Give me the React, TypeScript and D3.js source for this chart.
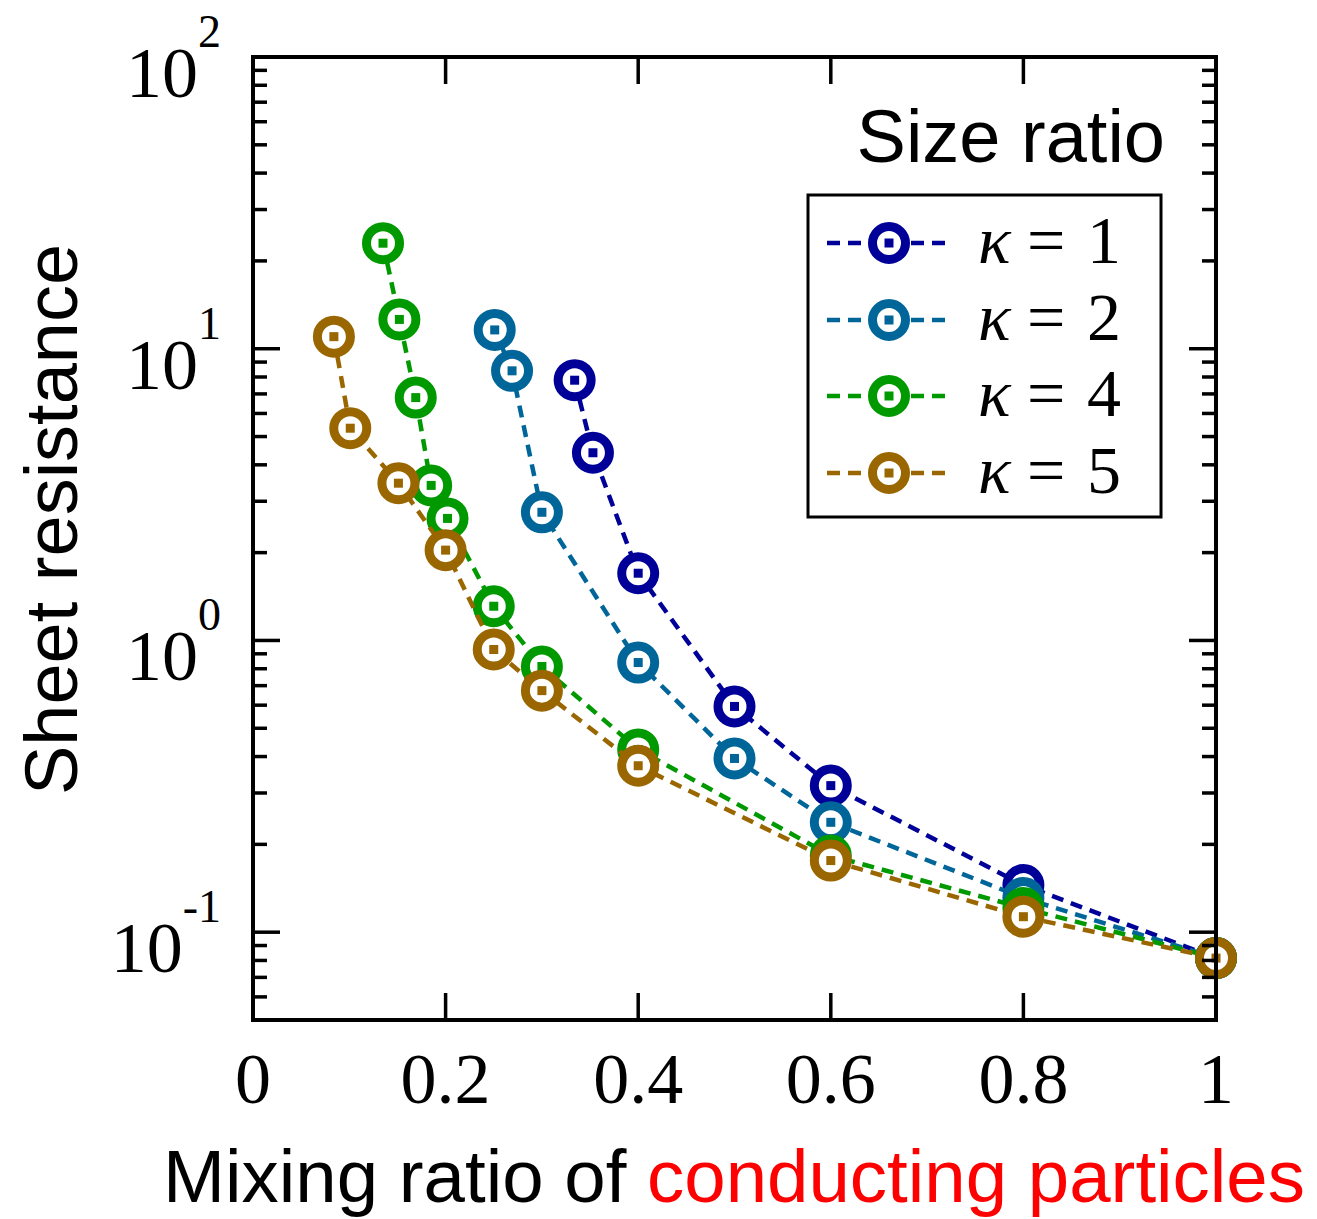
import React from "react";
import * as d3 from "d3";

// values
const xTicks = [0, 0.2, 0.4, 0.6, 0.8, 1];
const xTickLabels = ["0", "0.2", "0.4", "0.6", "0.8", "1"];
const yMajor = [0.1, 1, 10, 100];
const yExponents = ["-1", "0", "1", "2"];

const kappaLabels = ["1", "2", "4", "5"];
const kappaColors = ["#000099", "#006699", "#009900", "#996600"];

const kappa1X = [0.334, 0.353, 0.4, 0.5, 0.6, 0.8, 1.0];
const kappa1Y = [7.8, 4.4, 1.7, 0.594, 0.318, 0.145, 0.0815];
const kappa2X = [0.251, 0.269, 0.3, 0.4, 0.5, 0.6, 0.8, 1.0];
const kappa2Y = [11.6, 8.4, 2.75, 0.84, 0.394, 0.238, 0.131, 0.0815];
const kappa4X = [0.135, 0.152, 0.169, 0.185, 0.202, 0.25, 0.3, 0.4, 0.6, 0.8, 1.0];
const kappa4Y = [23.0, 12.6, 6.8, 3.4, 2.62, 1.31, 0.814, 0.423, 0.183, 0.121, 0.0815];
const kappa5X = [0.084, 0.101, 0.151, 0.2, 0.25, 0.3, 0.4, 0.6, 0.8, 1.0];
const kappa5Y = [11.0, 5.34, 3.46, 2.04, 0.931, 0.673, 0.372, 0.176, 0.113, 0.0815];

const seriesX = [kappa1X, kappa2X, kappa4X, kappa5X];
const seriesY = [kappa1Y, kappa2Y, kappa4Y, kappa5Y];

const serif = "'Liberation Serif', 'Times New Roman', serif";
const sans = "'Liberation Sans', Arial, sans-serif";

export default function App() {
  const width = 1317,
    height = 1219;
  const left = 253,
    right = 1216,
    top = 57,
    bottom = 1020;

  const x = d3.scaleLinear().domain([0, 1]).range([left, right]);
  const y = d3.scaleLog().domain([0.05, 100]).range([bottom, top]);

  const line = d3
    .line<[number, number]>()
    .x((d) => x(d[0]))
    .y((d) => y(d[1]));

  // minor ticks: every 1..9 x 10^k inside the domain, except the majors and the edge
  const minor = y
    .ticks()
    .filter((t) => !yMajor.some((m) => Math.abs(m - t) < 1e-9) && t > 0.0501 && t < 99.9);

  const majorLen = 27;
  const minorLen = 14;
  const tickStyle = { stroke: "#000", strokeWidth: 3.5 };

  const markerR = 16.5;
  const markerW = 9;
  const dash = "12,8";
  const sq = 9;

  const legend = { x0: 808, y0: 195, x1: 1161, y1: 517, lineX0: 827, lineX1: 951, markX: 889 };
  const legendRows = [243, 320, 396, 473];

  return (
    <svg
      width={width}
      height={height}
      style={{ position: "absolute", left: 0, top: 0, background: "#fff" }}
    >
      {/* series */}
      {seriesX.map((xs, si) => {
        const pts: [number, number][] = xs.map((v, i) => [v, seriesY[si][i]]);
        const col = kappaColors[si];
        return (
          <g key={si}>
            <path d={line(pts) || ""} fill="none" stroke={col} strokeWidth={4.5} strokeDasharray={dash} />
            {pts.map((p, i) => (
              <g key={i}>
                <circle cx={x(p[0])} cy={y(p[1])} r={markerR} fill="#fff" stroke={col} strokeWidth={markerW} />
                <rect x={x(p[0]) - sq / 2} y={y(p[1]) - sq / 2} width={sq} height={sq} fill={col} />
              </g>
            ))}
          </g>
        );
      })}

      {/* frame */}
      <rect x={left} y={top} width={right - left} height={bottom - top} fill="none" stroke="#000" strokeWidth={4} />

      {/* x ticks, bottom and top */}
      {xTicks.map((t, i) => (
        <g key={i}>
          {t > 0 && t < 1 && (
            <>
              <line x1={x(t)} x2={x(t)} y1={bottom} y2={bottom - majorLen} style={tickStyle} />
              <line x1={x(t)} x2={x(t)} y1={top} y2={top + majorLen} style={tickStyle} />
            </>
          )}
          <text
            x={x(t)}
            y={1103}
            textAnchor="middle"
            fontFamily={serif}
            fontSize={72}
            fill="#000"
          >
            {xTickLabels[i]}
          </text>
        </g>
      ))}

      {/* y ticks, left and right */}
      {yMajor.map((t, i) => (
        <g key={i}>
          {t < 100 && (
            <>
              <line x1={left} x2={left + majorLen} y1={y(t)} y2={y(t)} style={tickStyle} />
              <line x1={right} x2={right - majorLen} y1={y(t)} y2={y(t)} style={tickStyle} />
            </>
          )}
          <text x={221} y={y(t) + 40} textAnchor="end" fontFamily={serif} fontSize={72} fill="#000">
            10
            <tspan fontSize={46} dy={-50}>
              {yExponents[i]}
            </tspan>
          </text>
        </g>
      ))}
      {minor.map((t, i) => (
        <g key={i}>
          <line x1={left} x2={left + minorLen} y1={y(t)} y2={y(t)} style={tickStyle} />
          <line x1={right} x2={right - minorLen} y1={y(t)} y2={y(t)} style={tickStyle} />
        </g>
      ))}

      {/* axis titles */}
      <text
        transform={`translate(77,${(242 + 797) / 2}) rotate(-90)`}
        textAnchor="middle"
        fontFamily={sans}
        fontSize={74}
        fill="#000"
      >
        Sheet resistance
      </text>
      <text x={163} y={1202} fontFamily={sans} fontSize={74} fill="#000" textLength={1142} lengthAdjust="spacingAndGlyphs">
        Mixing ratio of <tspan fill="#ff0000">conducting particles</tspan>
      </text>

      {/* legend */}
      <text x={1165} y={162} textAnchor="end" fontFamily={sans} fontSize={74} fill="#000">
        Size ratio
      </text>
      <rect
        x={legend.x0}
        y={legend.y0}
        width={legend.x1 - legend.x0}
        height={legend.y1 - legend.y0}
        fill="#fff"
        stroke="#000"
        strokeWidth={3}
      />
      {kappaLabels.map((k, i) => {
        const cy = legendRows[i];
        const col = kappaColors[i];
        return (
          <g key={k}>
            <line
              x1={legend.lineX0}
              x2={legend.lineX1}
              y1={cy}
              y2={cy}
              stroke={col}
              strokeWidth={4.5}
              strokeDasharray="13,8"
            />
            <circle cx={legend.markX} cy={cy} r={markerR} fill="#fff" stroke={col} strokeWidth={markerW} />
            <rect x={legend.markX - sq / 2} y={cy - sq / 2} width={sq} height={sq} fill={col} />
            <text x={978} y={cy + 20} fontFamily={serif} fontSize={68} fontStyle="italic" fill="#000">
              κ
            </text>
            <text x={1027} y={cy + 20} fontFamily={serif} fontSize={68} fill="#000">
              =
            </text>
            <text x={1087} y={cy + 20} fontFamily={serif} fontSize={68} fill="#000">
              {k}
            </text>
          </g>
        );
      })}
    </svg>
  );
}
